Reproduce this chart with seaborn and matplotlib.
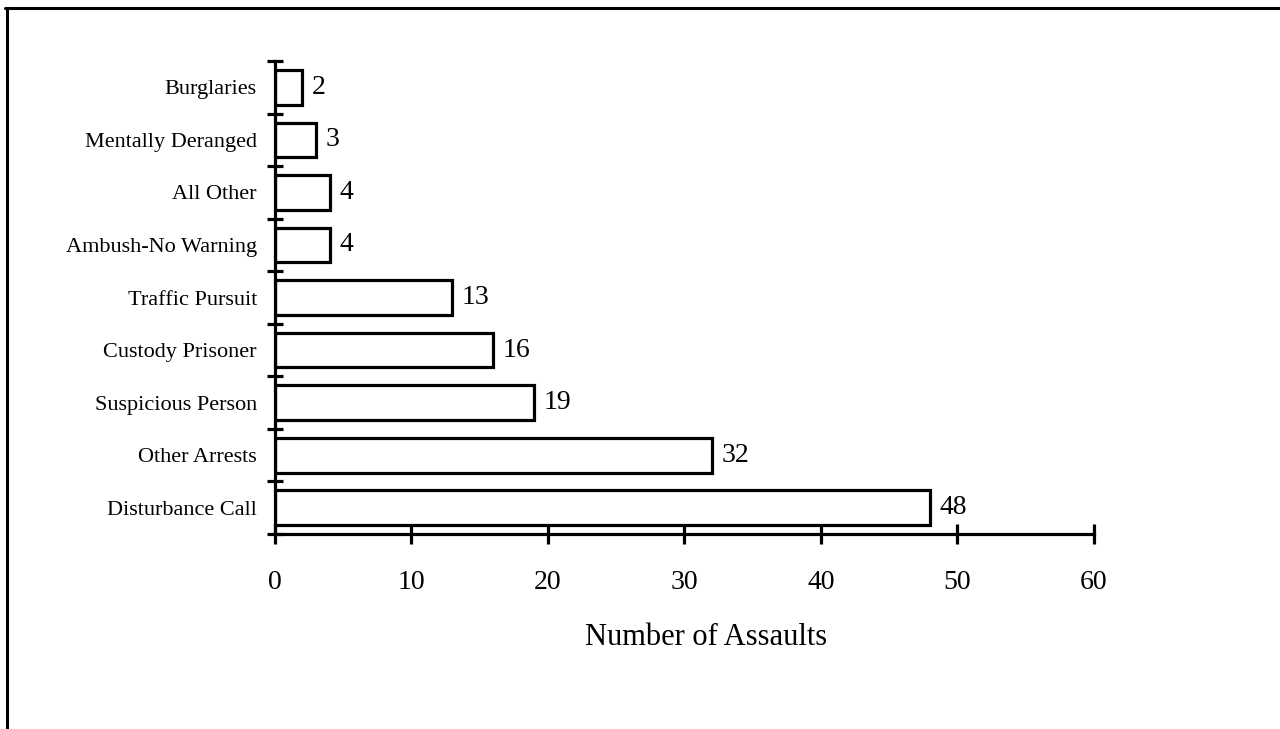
import matplotlib
matplotlib.use("Agg")
import matplotlib.pyplot as plt
from matplotlib.lines import Line2D
from matplotlib.ticker import FixedLocator
import seaborn as sns
import pandas as pd

# Assault circumstances and counts
categories = [
    "Burglaries",
    "Mentally Deranged",
    "All Other",
    "Ambush-No Warning",
    "Traffic Pursuit",
    "Custody Prisoner",
    "Suspicious Person",
    "Other Arrests",
    "Disturbance Call",
]
assaults = [2, 3, 4, 4, 13, 16, 19, 32, 48]
x_ticks = [0, 10, 20, 30, 40, 50, 60]

df = pd.DataFrame({"Circumstance": categories, "Assaults": assaults})

sns.set_theme(style="white")
plt.rcParams["font.family"] = ["Liberation Serif", "DejaVu Serif"]

fig = plt.figure(figsize=(12.8, 7.29), dpi=100)
ax = fig.add_axes([0.2148, 0.2675, 0.6398, 0.6488])

sns.barplot(
    data=df, x="Assaults", y="Circumstance", orient="h",
    color="white", edgecolor="black", linewidth=2.3,
    width=0.66, saturation=1, ax=ax,
)

ax.set_xlim(0, 60)
ax.set_ylim(len(categories) - 0.5, -0.5)

# Spines: only the left and bottom axis lines
for side in ("top", "right"):
    ax.spines[side].set_visible(False)
for side in ("left", "bottom"):
    ax.spines[side].set_linewidth(2.3)
    ax.spines[side].set_color("black")

# X ticks crossing the axis
ax.set_xticks(x_ticks)
ax.set_xticklabels([str(t) for t in x_ticks])
ax.tick_params(axis="x", direction="inout", length=14, width=2.3,
               color="black", labelsize=20, pad=19, bottom=True)

# Y category labels without marks; separators between categories
ax.tick_params(axis="y", which="major", length=0, labelsize=16, pad=13)
ax.yaxis.set_minor_locator(FixedLocator([i - 0.5 for i in range(len(categories) + 1)]))
ax.tick_params(axis="y", which="minor", direction="inout", length=11,
               width=2.3, color="black", left=True)

ax.set_ylabel("")
ax.set_xlabel("Number of Assaults", fontsize=22, color="black")
ax.xaxis.set_label_coords(0.527, -0.188)

for lbl in ax.get_xticklabels() + ax.get_yticklabels():
    lbl.set_color("black")

# Value labels at the end of each bar
ax.bar_label(ax.containers[0], labels=[str(v) for v in assaults],
             padding=7, fontsize=20, color="black")

# Page frame lines (top and left)
fig.add_artist(Line2D([0.004, 1.0], [0.989, 0.989], transform=fig.transFigure,
                      color="black", linewidth=2.2))
fig.add_artist(Line2D([0.0055, 0.0055], [0.0, 0.989], transform=fig.transFigure,
                      color="black", linewidth=2.2))

fig.savefig("out.png", dpi=100, facecolor="white")
